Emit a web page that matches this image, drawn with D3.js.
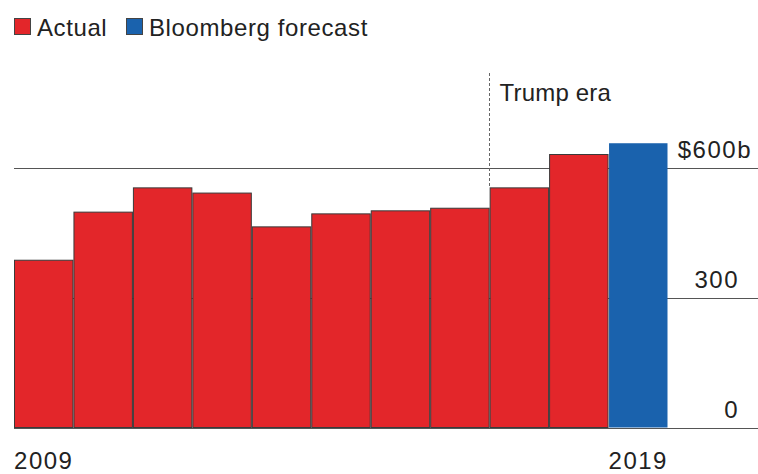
<!DOCTYPE html>
<html>
<head>
<meta charset="utf-8">
<script src="https://cdn.jsdelivr.net/npm/d3@7"></script>
<style>
  body { margin: 0; background: #fff; }
  svg text { font-family: "Liberation Sans", Arial, sans-serif; fill: #222; }
</style>
</head>
<body>
<div id="chart"></div>
<script>

var years = ['2009', '2010', '2011', '2012', '2013', '2014', '2015', '2016', '2017', '2018', '2019'];
var values = [386, 497, 553, 541, 463, 493, 500, 506, 553, 630, 656];
var kinds = ['actual', 'actual', 'actual', 'actual', 'actual', 'actual', 'actual', 'actual', 'actual', 'actual', 'forecast'];
var yTicks = [0, 300, 600];
var yearLabels = ['2009', '2019'];
var legendItems = ['Actual', 'Bloomberg forecast'];
var eraStart = '2017';

var width = 758;
var height = 474;

var colors = { actual: '#e3262a', forecast: '#1a62ad' };

var svg = d3.select('#chart')
		.append('svg')
		.attr('width', width)
		.attr('height', height);

var x = d3.scaleBand()
		.domain(years)
		.range([14, 668])
		.padding(0);

var y = d3.scaleLinear()
		.domain([0, 600])
		.range([427.5, 167.5]);

// gridlines
svg.append('g')
		.selectAll('line')
		.data(yTicks)
		.join('line')
		.attr('x1', 14)
		.attr('x2', width)
		.attr('y1', function (d) { return Math.round(y(d)) + 0.5; })
		.attr('y2', function (d) { return Math.round(y(d)) + 0.5; })
		// style
		.attr('stroke', '#555')
		.attr('stroke-width', 1);

// bars
svg.append('g')
		.selectAll('rect')
		.data(values)
		.join('rect')
		.attr('x', function (d, i) { return x(years[i]) + 0.5; })
		.attr('y', function (d) { return y(d); })
		.attr('width', x.bandwidth() - 1)
		.attr('height', function (d) { return y(0) - y(d); })
		// style
		.attr('fill', function (d, i) { return colors[kinds[i]]; })
		.attr('stroke', function (d, i) { return kinds[i] == 'actual' ? '#3a3a3a' : 'none'; })
		.attr('stroke-width', 1);

// tick labels
var tickLabels = svg.append('g')
		.selectAll('text')
		.data(yTicks)
		.join('text')
		.attr('x', 739)
		.attr('y', function (d) { return y(d) - 10; })
		.attr('text-anchor', 'end')
		.attr('font-size', '24px')
		.attr('letter-spacing', '1.5px')
		.text(function (d) { return d == 600 ? '$' + d : d; });

tickLabels.filter(function (d) { return d == 600; })
		.attr('x', 752)
		.append('tspan')
		.text('b');

// year labels
svg.append('g')
		.selectAll('text')
		.data(yearLabels)
		.join('text')
		.attr('x', function (d) { return x(d) + x.bandwidth() / 2; })
		.attr('y', 469)
		.attr('text-anchor', 'middle')
		.attr('font-size', '24px')
		.attr('letter-spacing', '1.5px')
		.text(function (d) { return d; });

// Trump era marker
var eraX = Math.round(x(eraStart)) - 0.5;
var eraIdx = years.indexOf(eraStart);

svg.append('line')
		.attr('x1', eraX)
		.attr('x2', eraX)
		.attr('y1', 73)
		.attr('y2', y(values[eraIdx]))
		// style
		.attr('stroke', '#666')
		.attr('stroke-width', 1)
		.attr('stroke-dasharray', '3,2');

svg.append('text')
		.attr('x', eraX + 10)
		.attr('y', 101)
		.attr('font-size', '24px')
		.attr('letter-spacing', '0.2px')
		.text('Trump era');

// legend
var legendX = [14, 126];
var legend = svg.append('g')
		.selectAll('g')
		.data(legendItems)
		.join('g')
		.attr('transform', function (d, i) { return 'translate(' + legendX[i] + ',18)'; });

legend.append('rect')
		.attr('x', 0.5)
		.attr('y', 0.5)
		.attr('width', 16)
		.attr('height', 16)
		.attr('fill', function (d, i) { return i == 0 ? colors.actual : colors.forecast; })
		.attr('stroke', '#444')
		.attr('stroke-width', 1);

legend.append('text')
		.attr('x', 23)
		.attr('y', 18)
		.attr('font-size', '24px')
		.attr('letter-spacing', '0.6px')
		.text(function (d) { return d; });

</script>
</body>
</html>
